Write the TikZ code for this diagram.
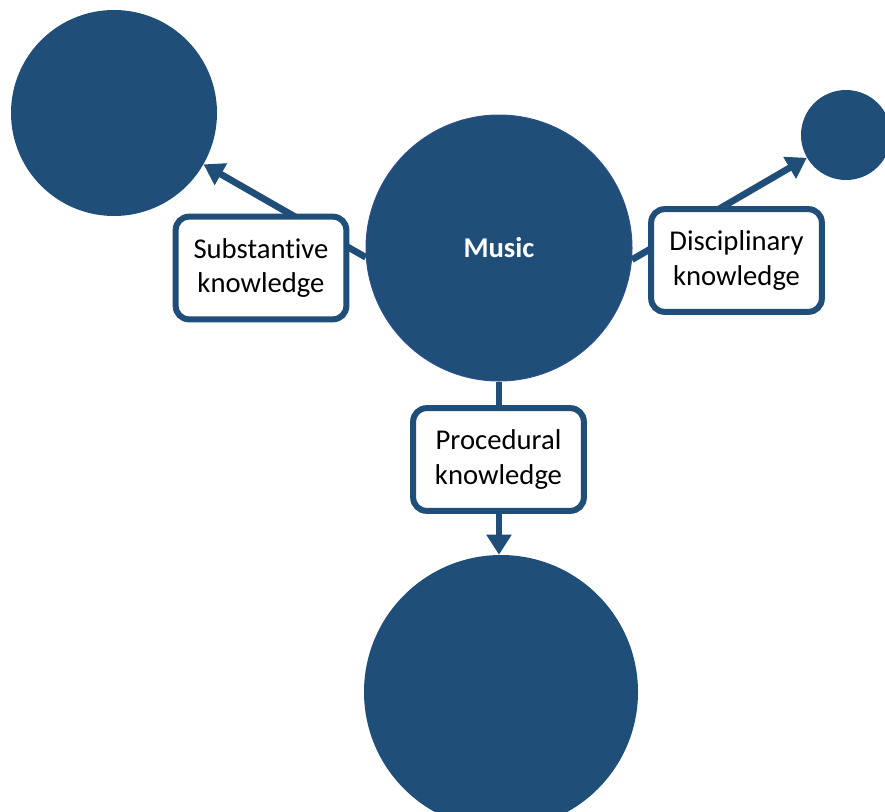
\documentclass[tikz,border=0pt]{standalone}
\usepackage{fontspec}
\setmainfont{Carlito}[Ligatures=NoCommon]
\usepackage{xcolor}
\usetikzlibrary{arrows.meta}
\definecolor{darkblue}{RGB}{31,78,121}
\definecolor{rimblue}{RGB}{47,82,143}

\begin{document}
\begin{tikzpicture}[x=0.75pt,y=-0.75pt,
  font=\fontsize{21.5pt}{26pt}\selectfont,
  blob/.style={circle,fill=darkblue,inner sep=0pt,minimum size=#1},
  kbox/.style={draw=darkblue,line width=4.5pt,rounded corners=10pt,fill=white,
    align=center,minimum width=128pt,minimum height=77pt,inner sep=2pt},
  link/.style={draw=darkblue,line width=5pt},
  arr/.style={link,-{Triangle[width=18pt,length=15pt]}}]
  \clip (0,0) rectangle (885,811);
  \useasboundingbox (0,0) rectangle (885,811);
  % circles
  \node[blob=199.5pt,draw=rimblue,line width=0.75pt] (music) at (499,248) {\color{white}\bfseries Music};
  \node[blob=154.5pt] (subst) at (114,113) {};
  \node[blob=67.5pt] (disc) at (846,135) {};
  \node[blob=205.5pt] (proc) at (501,692) {};
  % connectors, boxes go on top
  \draw[arr] (music.184) -- (subst);
  \draw[arr] (music.-5) -- (disc);
  \draw[arr] (music.south) -- (music.south |- proc.north);
  \node[kbox] (sbox) at (261,268) {Substantive\\knowledge};
  \node[kbox] (dbox) at (736.5,260.5) {Disciplinary\\knowledge};
  \node[kbox] (pbox) at (498.5,459.5) {Procedural\\knowledge};
\end{tikzpicture}
\end{document}
